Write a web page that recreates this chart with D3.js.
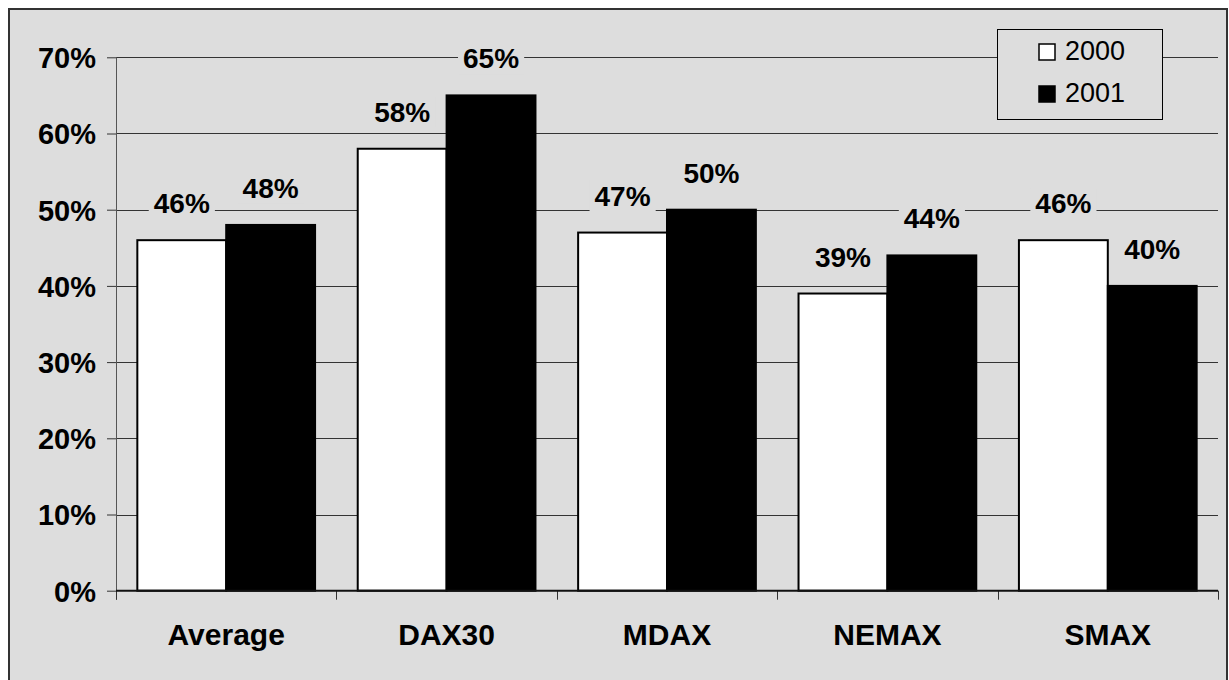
<!DOCTYPE html>
<html>
<head>
<meta charset="utf-8">
<script src="https://cdn.jsdelivr.net/npm/d3@7/dist/d3.min.js"></script>
<style>
  html, body { margin: 0; padding: 0; background: #ffffff; }
  svg { display: block; font-family: Arial, "Liberation Sans", Helvetica, sans-serif; }
</style>
</head>
<body>
<svg id="chart" width="1229" height="680"></svg>
<script>
const categories = ["Average", "DAX30", "MDAX", "NEMAX", "SMAX"];
const seriesNames = ["2000", "2001"];
const values2000 = [0.46, 0.58, 0.47, 0.39, 0.46];
const values2001 = [0.48, 0.65, 0.50, 0.44, 0.40];
const yTicks = [0, 0.1, 0.2, 0.3, 0.4, 0.5, 0.6, 0.7];
const seriesFill = ["#ffffff", "#000000"];

const bg = "#dddddd";
const svg = d3.select("#chart");
const W = 1229, H = 680;
const plot = { left: 116, right: 1218, top: 57.3, bottom: 590.7 };

svg.append("rect").attr("x", 0).attr("y", 0).attr("width", W).attr("height", H).attr("fill", "#ffffff");
svg.append("rect").attr("x", 9).attr("y", 9).attr("width", 1218).attr("height", 690)
  .attr("fill", bg).attr("stroke", "#333").attr("stroke-width", 2);

const x0 = d3.scaleBand().domain(categories).range([plot.left, plot.right]).paddingInner(0).paddingOuter(0);
const x1 = d3.scaleBand().domain(seriesNames).range([0, x0.bandwidth()]).paddingInner(0).paddingOuter(0.24);
const y = d3.scaleLinear().domain([0, 0.7]).range([plot.bottom, plot.top]);

// gridlines
svg.append("g").selectAll("line").data(yTicks.filter(t => t > 0)).join("line")
  .attr("x1", plot.left).attr("x2", plot.right)
  .attr("y1", d => Math.round(y(d)) + 0.5).attr("y2", d => Math.round(y(d)) + 0.5)
  .attr("stroke", "#333").attr("stroke-width", 1);

// y axis
const yAxis = d3.axisLeft(y).tickValues(yTicks).tickFormat(d3.format(".0%")).tickSize(9).tickSizeOuter(0).tickPadding(11);
const yg = svg.append("g").attr("transform", `translate(${plot.left},0)`).call(yAxis);
yg.select(".domain").remove();
yg.selectAll(".tick line").attr("stroke", "#333");
yg.selectAll(".tick text").attr("font-size", 29).attr("font-weight", "bold").attr("fill", "#000")
  .attr("font-family", "Arial, 'Liberation Sans', sans-serif").attr("dy", "0.36em");
svg.append("line").attr("x1", plot.left + 0.5).attr("x2", plot.left + 0.5)
  .attr("y1", plot.top).attr("y2", plot.bottom + 9).attr("stroke", "#555").attr("stroke-width", 1);

// category boundary ticks
const bounds = categories.map(c => x0(c)).concat([plot.right]);
svg.append("g").selectAll("line").data(bounds).join("line")
  .attr("x1", d => Math.round(d) + 0.5).attr("x2", d => Math.round(d) + 0.5)
  .attr("y1", plot.bottom).attr("y2", plot.bottom + 9)
  .attr("stroke", "#333").attr("stroke-width", 1);

// bars
const data = categories.map((c, i) => ({ cat: c, vals: [values2000[i], values2001[i]] }));
const groups = svg.append("g").selectAll("g").data(data).join("g")
  .attr("transform", d => `translate(${x0(d.cat)},0)`);
groups.selectAll("rect").data(d => d.vals.map((v, j) => ({ v, s: seriesNames[j], j }))).join("rect")
  .attr("x", d => x1(d.s)).attr("width", x1.bandwidth())
  .attr("y", d => y(d.v)).attr("height", d => y(0) - y(d.v))
  .attr("fill", d => seriesFill[d.j]).attr("stroke", "#000").attr("stroke-width", 2);

// x axis baseline
svg.append("line").attr("x1", plot.left).attr("x2", plot.right)
  .attr("y1", plot.bottom).attr("y2", plot.bottom).attr("stroke", "#111").attr("stroke-width", 2);

// value labels with background
const labelG = svg.append("g");
data.forEach(d => {
  d.vals.forEach((v, j) => {
    const cx = x0(d.cat) + x1(seriesNames[j]) + x1.bandwidth() / 2;
    const g = labelG.append("g");
    const t = g.append("text").attr("x", cx).attr("y", y(v) - 27)
      .attr("text-anchor", "middle").attr("font-size", 28).attr("font-weight", "bold").attr("fill", "#000")
      .text(d3.format(".0%")(v));
    const bb = t.node().getBBox();
    g.insert("rect", "text").attr("x", bb.x - 5).attr("y", bb.y).attr("width", bb.width + 10).attr("height", bb.height)
      .attr("fill", bg);
  });
});

// category labels
svg.append("g").selectAll("text").data(categories).join("text")
  .attr("x", d => x0(d) + x0.bandwidth() / 2).attr("y", 645)
  .attr("text-anchor", "middle").attr("font-size", 30).attr("font-weight", "bold").attr("fill", "#000")
  .text(d => d);

// legend
const lg = svg.append("g");
lg.append("rect").attr("x", 997.5).attr("y", 29.5).attr("width", 165).attr("height", 90)
  .attr("fill", bg).attr("stroke", "#000").attr("stroke-width", 1);
seriesNames.forEach((s, j) => {
  const yy = 44 + j * 42;
  lg.append("rect").attr("x", 1039).attr("y", yy).attr("width", 16).attr("height", 16)
    .attr("fill", seriesFill[j]).attr("stroke", "#000").attr("stroke-width", 1.5);
  lg.append("text").attr("x", 1065).attr("y", yy + 16).attr("font-size", 27).attr("fill", "#000").text(s);
});
</script>
</body>
</html>
